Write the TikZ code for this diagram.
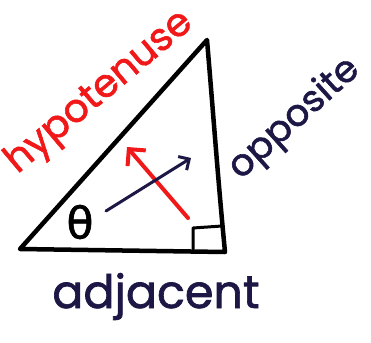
\documentclass[tikz,border=0pt]{standalone}
\usepackage{fontspec}
\setmainfont{Poppins}[FakeBold=1.5]
\newfontfamily\greekfont{DejaVu Sans}[FakeBold=1.5]
\usetikzlibrary{arrows.meta}
\definecolor{PenRed}{HTML}{F01818}
\definecolor{PenNavy}{HTML}{1C1745}
\tikzset{side/.style={line width=4.5pt,black,line cap=round,line join=round},word/.style={inner sep=0pt,font=\fontsize{39}{39}\selectfont},arr/.style={-{Straight Barb[length=10pt,width=20pt]},line width=3pt,line cap=round}}
\begin{document}
\begin{tikzpicture}[x=1pt,y=-1pt]
\useasboundingbox (0,0) rectangle (371,342);
\coordinate (A) at (20,249); \coordinate (B) at (207,40); \coordinate (C) at (225,252);
\draw[side] (A)--(B) .. controls (213,110) and (218,180) .. (C) -- cycle;
\draw[side,line width=3pt] (193,249)--(193,228)--(222,226);
\node[font=\greekfont\fontsize{44}{44}\selectfont,inner sep=0pt] (theta) at (80,222) {θ};
\coordinate (redtail) at (188,218); \coordinate (redtip) at (127,147);
\coordinate (bluetail) at (106,211); \coordinate (bluetip) at (191,158);
\draw[arr,PenRed,line width=4pt,-{Straight Barb[length=12pt,width=24pt]}] (redtail)--(redtip);
\draw[arr,PenNavy,-{Straight Barb[length=8pt,width=16pt]}] (bluetail)--(bluetip);
\node[word,PenRed,rotate=40,anchor=base] (hyp) at (106,100) {hypotenuse};
\node[word,PenNavy,rotate=42,anchor=base,font=\fontsize{37}{37}\selectfont] (opp) at (301,126) {opposite};
\node[word,PenNavy,anchor=base,font=\fontsize{46}{46}\selectfont] (adj) at (156,308) {adjacent};
\end{tikzpicture}
\end{document}
